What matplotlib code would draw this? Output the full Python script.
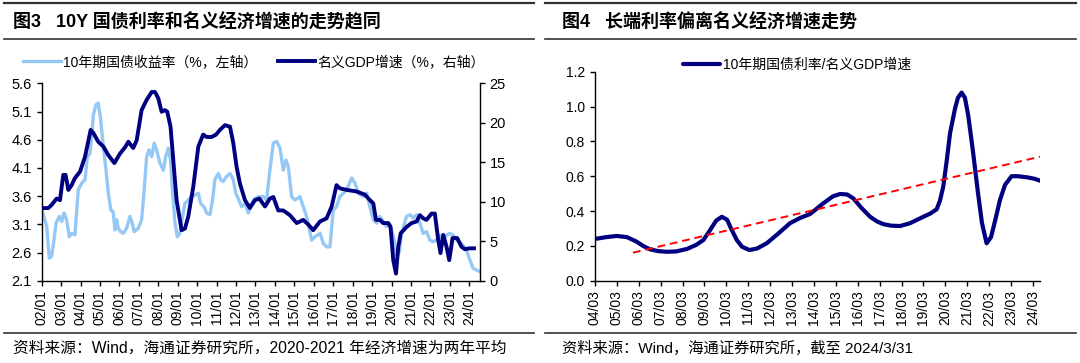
import matplotlib
matplotlib.use("Agg")
import matplotlib.pyplot as plt
from matplotlib.lines import Line2D
import numpy as np

plt.rcParams['font.family'] = ['Liberation Sans', 'Noto Sans CJK SC', 'DejaVu Sans']

# left panel: 10Y government bond yield (%, left axis)
yld_t = [2002.00, 2002.26, 2002.39, 2002.51, 2002.63, 2002.74, 2002.91, 2003.03, 2003.15, 2003.28,
         2003.42, 2003.54, 2003.71, 2003.88, 2004.06, 2004.23, 2004.35, 2004.49, 2004.66, 2004.79,
         2004.91, 2005.03, 2005.17, 2005.31, 2005.43, 2005.56, 2005.68, 2005.77, 2005.86, 2005.94,
         2006.06, 2006.20, 2006.37, 2006.54, 2006.66, 2006.76, 2006.97, 2007.14, 2007.26, 2007.40,
         2007.52, 2007.66, 2007.79, 2007.91, 2008.09, 2008.26, 2008.38, 2008.51, 2008.63, 2008.74,
         2008.86, 2008.98, 2009.11, 2009.25, 2009.37, 2009.54, 2009.71, 2009.88, 2010.06, 2010.18,
         2010.35, 2010.49, 2010.66, 2010.79, 2010.91, 2011.09, 2011.21, 2011.34, 2011.51, 2011.69,
         2011.86, 2011.99, 2012.11, 2012.29, 2012.46, 2012.63, 2012.80, 2012.97, 2013.14, 2013.40,
         2013.57, 2013.74, 2013.92, 2014.09, 2014.26, 2014.43, 2014.57, 2014.69, 2014.86, 2015.03,
         2015.29, 2015.46, 2015.63, 2015.89, 2016.06, 2016.32, 2016.49, 2016.66, 2016.83, 2017.00,
         2017.17, 2017.34, 2017.52, 2017.69, 2017.95, 2018.12, 2018.29, 2018.55, 2018.72, 2018.89,
         2019.06, 2019.23, 2019.40, 2019.57, 2019.75, 2019.92, 2020.12, 2020.26, 2020.40, 2020.52,
         2020.77, 2020.95, 2021.12, 2021.29, 2021.46, 2021.63, 2021.80, 2021.97, 2022.15, 2022.32,
         2022.49, 2022.66, 2022.83, 2023.00, 2023.17, 2023.35, 2023.60, 2023.86, 2024.03, 2024.20,
         2024.37, 2024.55]
yld_v = [3.38, 3.06, 2.50, 2.53, 2.82, 3.12, 3.24, 3.15, 3.30, 3.18,
         2.88, 2.94, 2.91, 3.71, 3.83, 3.89, 4.30, 4.36, 5.04, 5.22,
         5.25, 4.98, 4.48, 4.06, 3.65, 3.35, 3.32, 3.00, 3.18, 3.03,
         2.97, 2.94, 3.03, 3.24, 3.12, 2.97, 3.03, 3.18, 3.65, 4.30,
         4.42, 4.30, 4.54, 4.42, 4.18, 4.06, 4.30, 4.45, 4.24, 3.65,
         3.12, 2.88, 2.94, 3.24, 3.47, 3.53, 3.59, 3.62, 3.65, 3.47,
         3.41, 3.30, 3.27, 3.53, 3.89, 4.00, 3.89, 3.86, 3.95, 4.00,
         3.89, 3.65, 3.56, 3.41, 3.47, 3.30, 3.47, 3.56, 3.59, 3.59,
         3.53, 4.06, 4.54, 4.57, 4.45, 4.06, 4.24, 4.12, 3.59, 3.53,
         3.59, 3.41, 3.24, 2.82, 2.88, 2.94, 2.76, 2.70, 2.70, 3.35,
         3.41, 3.59, 3.65, 3.71, 3.92, 3.83, 3.65, 3.59, 3.65, 3.41,
         3.18, 3.12, 3.24, 3.15, 3.06, 3.10, 2.85, 2.55, 2.60, 2.94,
         3.24, 3.27, 3.21, 3.27, 3.12, 2.94, 2.97, 2.82, 2.79, 2.82,
         2.91, 2.82, 2.91, 2.94, 2.91, 2.82, 2.76, 2.64, 2.47, 2.32,
         2.29, 2.26]

# left panel: nominal GDP growth (%, right axis)
gdp_t = [2002.00, 2002.34, 2002.51, 2002.77, 2002.94, 2003.11, 2003.23, 2003.37, 2003.54, 2003.71,
         2003.97, 2004.23, 2004.41, 2004.52, 2004.66, 2004.91, 2005.17, 2005.43, 2005.74, 2006.03,
         2006.29, 2006.46, 2006.71, 2006.89, 2007.14, 2007.40, 2007.66, 2007.83, 2008.00, 2008.17,
         2008.34, 2008.46, 2008.63, 2008.77, 2008.94, 2009.20, 2009.37, 2009.54, 2009.80, 2010.06,
         2010.31, 2010.49, 2010.74, 2010.97, 2011.17, 2011.43, 2011.69, 2011.86, 2012.03, 2012.20,
         2012.46, 2012.71, 2012.97, 2013.20, 2013.49, 2013.74, 2013.92, 2014.17, 2014.43, 2014.77,
         2015.12, 2015.46, 2015.72, 2015.97, 2016.32, 2016.66, 2016.92, 2017.17, 2017.34, 2017.69,
         2018.20, 2018.63, 2018.89, 2019.06, 2019.20, 2019.40, 2019.57, 2019.83, 2019.95, 2020.09,
         2020.23, 2020.35, 2020.47, 2020.77, 2021.03, 2021.29, 2021.46, 2021.63, 2021.80, 2022.06,
         2022.23, 2022.40, 2022.52, 2022.66, 2022.83, 2022.97, 2023.14, 2023.38, 2023.60, 2023.77,
         2024.03, 2024.24]
gdp_v = [9.2, 9.2, 9.6, 10.4, 10.2, 13.4, 13.4, 11.5, 12.1, 13.0,
         13.8, 15.7, 17.8, 19.1, 18.7, 17.6, 17.0, 15.9, 14.9, 16.1,
         16.9, 17.6, 16.8, 17.8, 21.6, 22.9, 23.9, 23.9, 23.1, 21.4,
         21.6, 21.4, 19.5, 15.3, 10.2, 6.4, 6.6, 8.1, 11.9, 17.0,
         18.5, 18.2, 18.2, 18.5, 19.1, 19.7, 19.5, 17.4, 14.4, 12.3,
         10.2, 9.2, 10.2, 10.4, 9.4, 10.4, 10.6, 8.9, 8.9, 8.3,
         7.3, 7.7, 7.1, 6.4, 7.5, 7.9, 9.4, 12.1, 11.7, 11.5,
         11.3, 10.9, 10.2, 9.8, 7.7, 7.7, 7.3, 7.3, 6.8, 2.6,
         0.9, 4.3, 6.0, 6.8, 7.3, 7.5, 8.3, 7.9, 7.7, 8.5,
         8.5, 5.2, 3.5, 5.8, 4.3, 2.6, 5.4, 5.4, 4.3, 4.0,
         4.1, 4.1]

left_years = list(range(2002, 2025))
left_labels = ['{:02d}/01'.format(y % 100) for y in left_years]

# right panel: 10Y yield / nominal GDP growth
ratio_t = [2004.17, 2004.67, 2005.16, 2005.63, 2006.07, 2006.36, 2006.68, 2007.05, 2007.44, 2007.87,
           2008.36, 2008.78, 2009.12, 2009.42, 2009.70, 2009.96, 2010.20, 2010.38, 2010.64, 2010.88,
           2011.22, 2011.57, 2012.01, 2012.53, 2013.07, 2013.53, 2013.99, 2014.59, 2015.04, 2015.36,
           2015.68, 2015.96, 2016.32, 2016.73, 2017.05, 2017.33, 2017.69, 2018.10, 2018.55, 2019.01,
           2019.47, 2019.77, 2019.92, 2020.07, 2020.23, 2020.38, 2020.61, 2020.74, 2020.91, 2021.06,
           2021.21, 2021.44, 2021.66, 2021.84, 2022.05, 2022.25, 2022.43, 2022.66, 2022.89, 2023.19,
           2023.48, 2023.92, 2024.25, 2024.49]
ratio_v = [0.240, 0.250, 0.257, 0.250, 0.224, 0.200, 0.180, 0.170, 0.166, 0.168,
           0.182, 0.205, 0.234, 0.290, 0.345, 0.367, 0.350, 0.300, 0.234, 0.195,
           0.176, 0.185, 0.215, 0.270, 0.330, 0.360, 0.383, 0.444, 0.485, 0.498,
           0.495, 0.473, 0.420, 0.367, 0.340, 0.325, 0.316, 0.314, 0.330, 0.358,
           0.385, 0.410, 0.460, 0.540, 0.690, 0.846, 0.990, 1.050, 1.080, 1.050,
           0.950, 0.730, 0.500, 0.330, 0.215, 0.250, 0.340, 0.463, 0.550, 0.600,
           0.600, 0.593, 0.585, 0.574]
trend_t = [2005.90, 2024.49]
trend_v = [0.161, 0.712]

right_years = list(range(2004, 2025))
right_labels = ['{:02d}/03'.format(y % 100) for y in right_years]

LIGHT = '#95C8F5'
NAVY = '#000080'

fig = plt.figure(figsize=(10.8, 3.63), dpi=100)


def style(ax, left=True, right=False, bottom=True):
    for s in ['top', 'left', 'right', 'bottom']:
        ax.spines[s].set_visible(False)
    for s, on in [('left', left), ('right', right), ('bottom', bottom)]:
        if on:
            ax.spines[s].set_visible(True)
            ax.spines[s].set_linewidth(1.0)
            ax.spines[s].set_color('black')
    ax.tick_params(direction='out', length=3.5, width=1.0, colors='black')


# ---- left chart ----
ax1 = fig.add_axes([0.0386, 0.2267, 0.4058, 0.5438])
ax1.plot(yld_t, yld_v, color=LIGHT, lw=2.4, solid_joinstyle='round', label='10年期国债收益率（%，左轴）')
ax1.set_xlim(2002.0, 2024.55)
ax1.set_ylim(2.1, 5.6)
ax1.set_yticks(np.arange(2.1, 5.61, 0.5))
ax1.set_yticklabels(['{:.1f}'.format(v) for v in np.arange(2.1, 5.61, 0.5)], fontsize=10.5)
ax1.set_xticks(left_years)
ax1.set_xticklabels(left_labels, rotation=90, fontsize=10)
style(ax1)

ax2 = ax1.twinx()
ax2.plot(gdp_t, gdp_v, color=NAVY, lw=2.8, solid_joinstyle='round', label='名义GDP增速（%，右轴）')
ax2.set_ylim(0, 25)
ax2.set_yticks(range(0, 26, 5))
ax2.tick_params(labelsize=10.5)
style(ax2, left=False, right=True, bottom=False)

h1, l1 = ax1.get_legend_handles_labels()
h2, l2 = ax2.get_legend_handles_labels()
fig.legend(h1 + h2, l1 + l2, loc='center left', bbox_to_anchor=(0.0213, 0.829), ncol=2,
           frameon=False, fontsize=10, borderpad=0, handlelength=2.7, handletextpad=0.15,
           columnspacing=1.5, borderaxespad=0)

# ---- right chart ----
ax3 = fig.add_axes([0.5509, 0.2267, 0.4121, 0.5758])
ax3.plot(ratio_t, ratio_v, color=NAVY, lw=3.0, solid_joinstyle='round', solid_capstyle='round',
         label='10年期国债利率/名义GDP增速')
ax3.plot(trend_t, trend_v, color='#FF0000', lw=1.4, ls=(0, (4, 2.5)))
ax3.set_xlim(2004.17, 2024.49)
ax3.set_ylim(0, 1.2)
ax3.set_yticks(np.arange(0, 1.21, 0.2))
ax3.set_yticklabels(['{:.1f}'.format(v) for v in np.arange(0, 1.21, 0.2)], fontsize=10)
ax3.set_xticks([y + 2 / 12 for y in right_years])
ax3.set_xticklabels(right_labels, rotation=90, fontsize=10)
style(ax3)
h3, l3 = ax3.get_legend_handles_labels()
fig.legend(h3, l3, loc='center left', bbox_to_anchor=(0.6324, 0.821), frameon=False,
           fontsize=10, borderpad=0, handlelength=2.7, handletextpad=0.15, borderaxespad=0)

# ---- titles, rules and sources ----
for x0, x1 in [(0.004, 0.494), (0.505, 0.996)]:
    for y, lw in [(0.9926, 1.6), (0.8917, 1.2), (0.0835, 1.2)]:
        fig.add_artist(Line2D([x0, x1], [y, y], color='#333333', lw=lw))

fig.text(0.012, 0.939, '图3   10Y 国债利率和名义经济增速的走势趋同', fontsize=13,
         fontweight='bold', va='center')
fig.text(0.520, 0.939, '图4   长端利率偏离名义经济增速走势', fontsize=13,
         fontweight='bold', va='center')
fig.text(0.012, 0.0413, '资料来源：Wind，海通证券研究所，2020-2021 年经济增速为两年平均',
         fontsize=11.3, va='center')
fig.text(0.520, 0.0413, '资料来源：Wind，海通证券研究所，截至 2024/3/31',
         fontsize=11, va='center')

fig.savefig('out.png', dpi=100)
